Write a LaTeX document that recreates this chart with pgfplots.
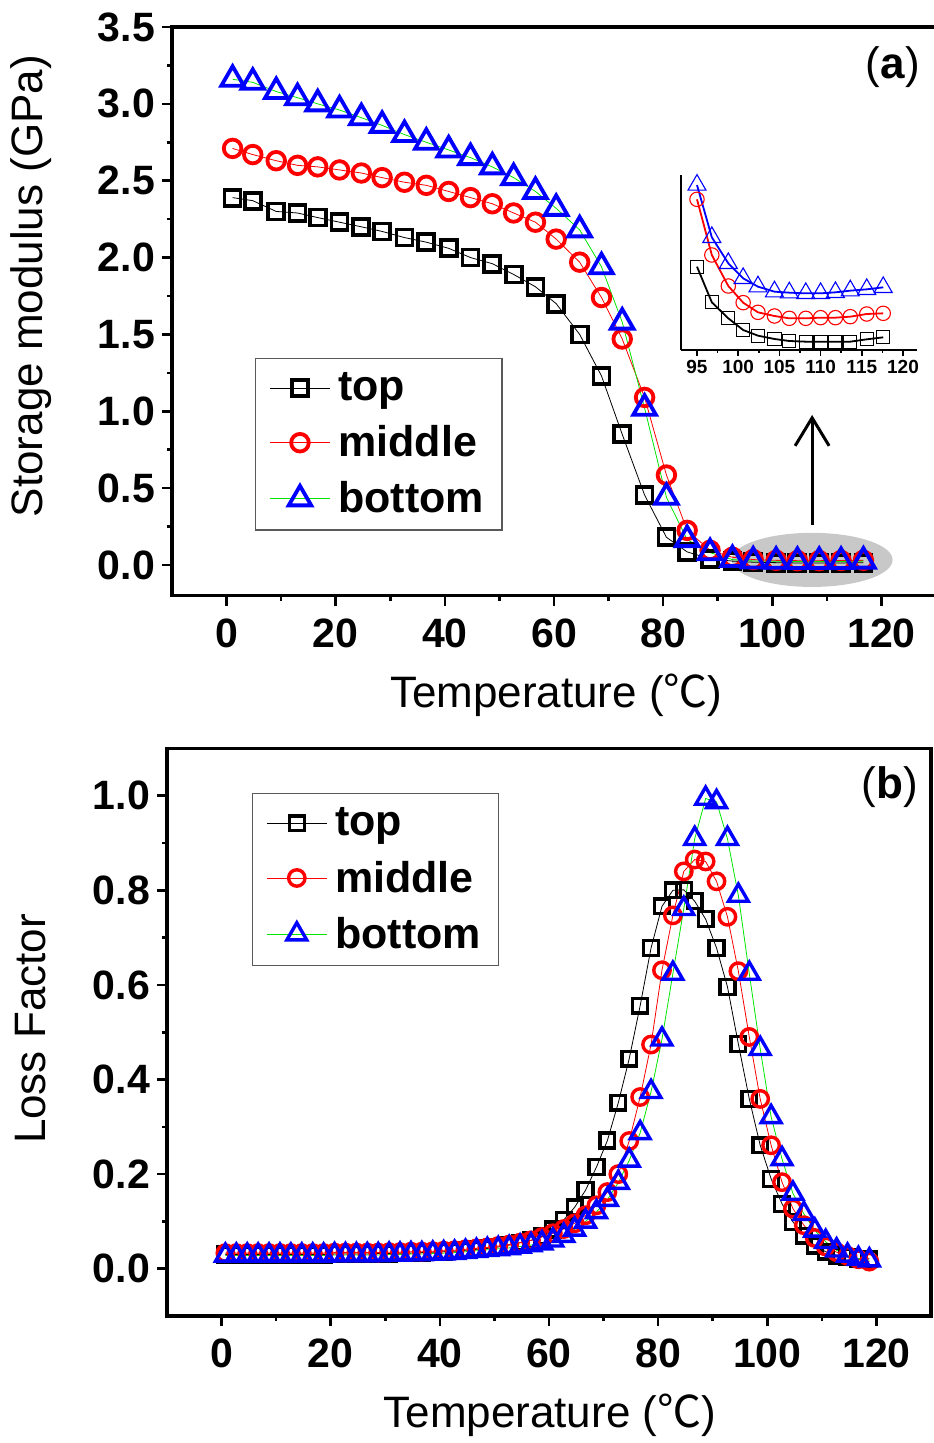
\documentclass[border=0pt]{standalone}
\usepackage{fontspec}
\setmainfont{Liberation Sans}
\newfontfamily\cjk{Noto Sans CJK SC}
\usepackage{pgfplots}
\usepackage{pgfplotstable}
\pgfplotsset{compat=1.18}
\usetikzlibrary{arrows.meta}
\definecolor{lgreen}{RGB}{0,230,0}
\definecolor{ellgray}{RGB}{200,200,200}

\pgfplotstableread{
T top middle bottom
1.1 2.39 2.71 3.16
4.8 2.37 2.67 3.14
9.1 2.30 2.63 3.08
13.0 2.29 2.60 3.04
16.7 2.26 2.59 3.00
20.7 2.23 2.57 2.96
24.7 2.20 2.55 2.91
28.5 2.17 2.52 2.86
32.6 2.13 2.49 2.80
36.6 2.10 2.47 2.75
40.7 2.06 2.43 2.70
44.7 2.00 2.39 2.65
48.7 1.96 2.35 2.59
52.6 1.89 2.29 2.52
56.6 1.81 2.23 2.43
60.4 1.70 2.12 2.32
64.7 1.50 1.97 2.18
68.7 1.23 1.74 1.94
72.5 0.85 1.47 1.58
76.6 0.455 1.09 1.02
80.6 0.18 0.585 0.44
84.4 0.085 0.225 0.165
88.6 0.04 0.095 0.08
92.7 0.025 0.05 0.035
96.5 0.018 0.035 0.026
100.7 0.015 0.030 0.024
104.6 0.013 0.028 0.023
108.6 0.013 0.028 0.023
112.6 0.013 0.029 0.023
116.7 0.015 0.030 0.025
}\dataA

\pgfplotstableread{
T top middle bottom
95.0 0.050 0.0904 0.099
96.8 0.0286 0.057 0.0676
98.8 0.019 0.0384 0.052
100.6 0.012 0.0284 0.043
102.4 0.0086 0.0226 0.038
104.4 0.0066 0.0204 0.035
106.2 0.0054 0.019 0.0344
108.2 0.0050 0.019 0.034
110.0 0.0050 0.0194 0.034
111.8 0.0050 0.0194 0.0346
113.6 0.0050 0.020 0.0356
115.6 0.0064 0.0216 0.0364
117.6 0.0076 0.022 0.0376
}\dataInset

\pgfplotstableread{
T top middle bottom
0.7 0.030 0.033 0.028
2.7 0.030 0.033 0.028
4.7 0.030 0.033 0.028
6.7 0.030 0.033 0.028
8.7 0.030 0.033 0.028
10.7 0.030 0.033 0.028
12.7 0.030 0.033 0.028
14.7 0.030 0.033 0.028
16.7 0.030 0.033 0.028
18.7 0.030 0.033 0.028
20.7 0.031 0.034 0.029
22.7 0.031 0.034 0.029
24.7 0.031 0.034 0.029
26.7 0.031 0.034 0.029
28.7 0.032 0.034 0.029
30.7 0.032 0.035 0.030
32.7 0.033 0.035 0.030
34.7 0.033 0.036 0.031
36.7 0.034 0.036 0.031
38.7 0.035 0.037 0.032
40.7 0.036 0.038 0.033
42.7 0.037 0.039 0.034
44.7 0.039 0.041 0.036
46.7 0.041 0.043 0.038
48.7 0.043 0.045 0.040
50.7 0.046 0.048 0.042
52.7 0.050 0.051 0.044
54.7 0.055 0.055 0.047
56.7 0.060 0.060 0.050
58.7 0.068 0.067 0.054
60.7 0.083 0.075 0.060
62.7 0.103 0.084 0.070
64.7 0.130 0.096 0.083
66.7 0.166 0.113 0.100
68.7 0.215 0.134 0.120
70.7 0.271 0.162 0.146
72.7 0.351 0.200 0.182
74.7 0.444 0.270 0.229
76.7 0.556 0.363 0.287
78.7 0.678 0.474 0.374
80.7 0.766 0.631 0.485
82.7 0.800 0.747 0.624
84.7 0.801 0.840 0.761
86.7 0.777 0.865 0.909
88.7 0.739 0.861 0.994
90.7 0.678 0.819 0.987
92.7 0.596 0.744 0.909
94.7 0.475 0.629 0.789
96.7 0.359 0.490 0.624
98.7 0.261 0.359 0.465
100.7 0.190 0.261 0.321
102.7 0.137 0.183 0.232
104.7 0.099 0.127 0.159
106.7 0.070 0.092 0.116
108.7 0.049 0.065 0.081
110.7 0.036 0.047 0.057
112.7 0.028 0.035 0.039
114.7 0.025 0.027 0.028
116.7 0.021 0.020 0.021
118.7 0.021 0.015 0.018
}\dataB

\pgfplotsset{
  base/.style={
    scale only axis, width=382pt,
    xmin=-10, xmax=130,
    xtick={0,20,...,120}, minor x tick num=1,
    tick align=outside, xtick pos=left, ytick pos=left,
    major tick length=5pt, minor tick length=2.5pt,
    axis line style={line width=1.6pt},
    tick style={black, line width=1.3pt},
    /pgf/number format/assume math mode=true,
    tick label style={font=\fontsize{20.5}{24}\selectfont\bfseries},
    xticklabel style={yshift=-3pt},
    yticklabel style={/pgf/number format/.cd, fixed, fixed zerofill, precision=1},
    label style={font=\fontsize{22}{26}\selectfont},
    legend cell align=left,
    legend image code/.code={\draw[mark repeat=2,mark phase=2] plot coordinates {(0pt,0pt) (15pt,0pt) (30pt,0pt)};},
    legend style={draw=black!65, line width=0.6pt, font=\fontsize{21.5}{24}\selectfont\bfseries,
      inner xsep=7pt, inner ysep=5pt, row sep=7pt, column sep=2pt, anchor=north west},
  },
  stop/.style 2 args={black, line width=0.4pt, mark=square, mark size=#1, mark options={solid, line width=#2, black}},
  smid/.style 2 args={red, line width=0.4pt, mark=o, mark size=#1, mark options={solid, line width=#2, red}},
  sbot/.style 2 args={lgreen, line width=0.4pt, mark=triangle, mark size=#1, mark options={solid, line width=#2, blue}},
}

\begin{document}
\begin{tikzpicture}
\useasboundingbox (0pt,0pt) rectangle (466.5pt,-721.5pt);

% ---------- panel (a)
\begin{axis}[base,
  at={(86pt,-297.85pt)}, anchor=south west, height=284.35pt,
  ymin=-0.2, ymax=3.5, ytick={0,0.5,...,3.5}, minor y tick num=1,
  xlabel={Temperature ({\cjk ℃})},
  xlabel style={at={(axis description cs:0.503,-0.1746)}, anchor=center},
  ylabel={Storage modulus (GPa)},
  ylabel style={at={(axis description cs:-0.1845,0.5446)}, anchor=center},
  legend style={at={(axis description cs:0.1086,0.418)}},
]
\fill[ellgray] (axis cs:107.3,0.033) ellipse [x radius=14.75, y radius=0.176];
\addplot[stop={4pt}{1.9pt}] table[x=T,y=top] {\dataA};
\addplot[smid={4.4pt}{1.9pt}] table[x=T,y=middle] {\dataA};
\addplot[sbot={6.5pt}{1.9pt}] table[x=T,y=bottom] {\dataA};
\draw[line width=1.5pt, -{Straight Barb[length=14pt,width=17pt,line width=1.5pt]}] (axis cs:107.3,0.26) -- (axis cs:107.3,0.976);
\legend{top, middle, bottom}
\end{axis}

% ---------- inset
\begin{axis}[
  at={(340.5pt,-175pt)}, anchor=south west, scale only axis,
  width=118pt, height=87.5pt,
  xmin=93.06, xmax=121.7, ymin=0, ymax=0.105,
  axis x line*=bottom, axis y line*=left,
  axis line style={line width=0.9pt, -},
  xtick={95,100,...,120}, minor x tick num=1, ytick=\empty,
  tick align=outside, major tick length=3pt, minor tick length=1.5pt,
  tick style={black, line width=0.8pt},
  tick label style={font=\fontsize{9.5}{10}\selectfont\bfseries},
  xticklabel style={yshift=1.5pt},
  /pgf/number format/assume math mode=true,
  clip=false,
]
\addplot[black, line width=0.9pt, mark=square, mark size=3.3pt, mark options={solid, line width=0.55pt}] table[x=T,y=top] {\dataInset};
\addplot[red, line width=0.9pt, mark=o, mark size=3.6pt, mark options={solid, line width=0.55pt}] table[x=T,y=middle] {\dataInset};
\addplot[blue, line width=0.9pt, mark=triangle, mark size=5.2pt, mark options={solid, line width=0.55pt}] table[x=T,y=bottom] {\dataInset};
\end{axis}

\node[font=\fontsize{22}{26}\selectfont] at (446.5pt,-33.5pt) {(\textbf{a})};

% ---------- panel (b)
\begin{axis}[base,
  at={(83.5pt,-658pt)}, anchor=south west, height=283.8pt,
  ymin=-0.1, ymax=1.1, ytick={0,0.2,...,1.0}, minor y tick num=1,
  xlabel={Temperature ({\cjk ℃})},
  xlabel style={at={(axis description cs:0.501,-0.174)}, anchor=center},
  ylabel={Loss Factor},
  ylabel style={at={(axis description cs:-0.179,0.5056)}, anchor=center},
  legend style={at={(axis description cs:0.111,0.921)}},
]
\addplot[stop={3.7pt}{1.7pt}] table[x=T,y=top] {\dataB};
\addplot[smid={4.1pt}{1.7pt}] table[x=T,y=middle] {\dataB};
\addplot[sbot={5.7pt}{1.7pt}] table[x=T,y=bottom] {\dataB};
\legend{top, middle, bottom}
\end{axis}

\node[font=\fontsize{22}{26}\selectfont] at (445pt,-393.5pt) {(\textbf{b})};
\end{tikzpicture}
\end{document}
